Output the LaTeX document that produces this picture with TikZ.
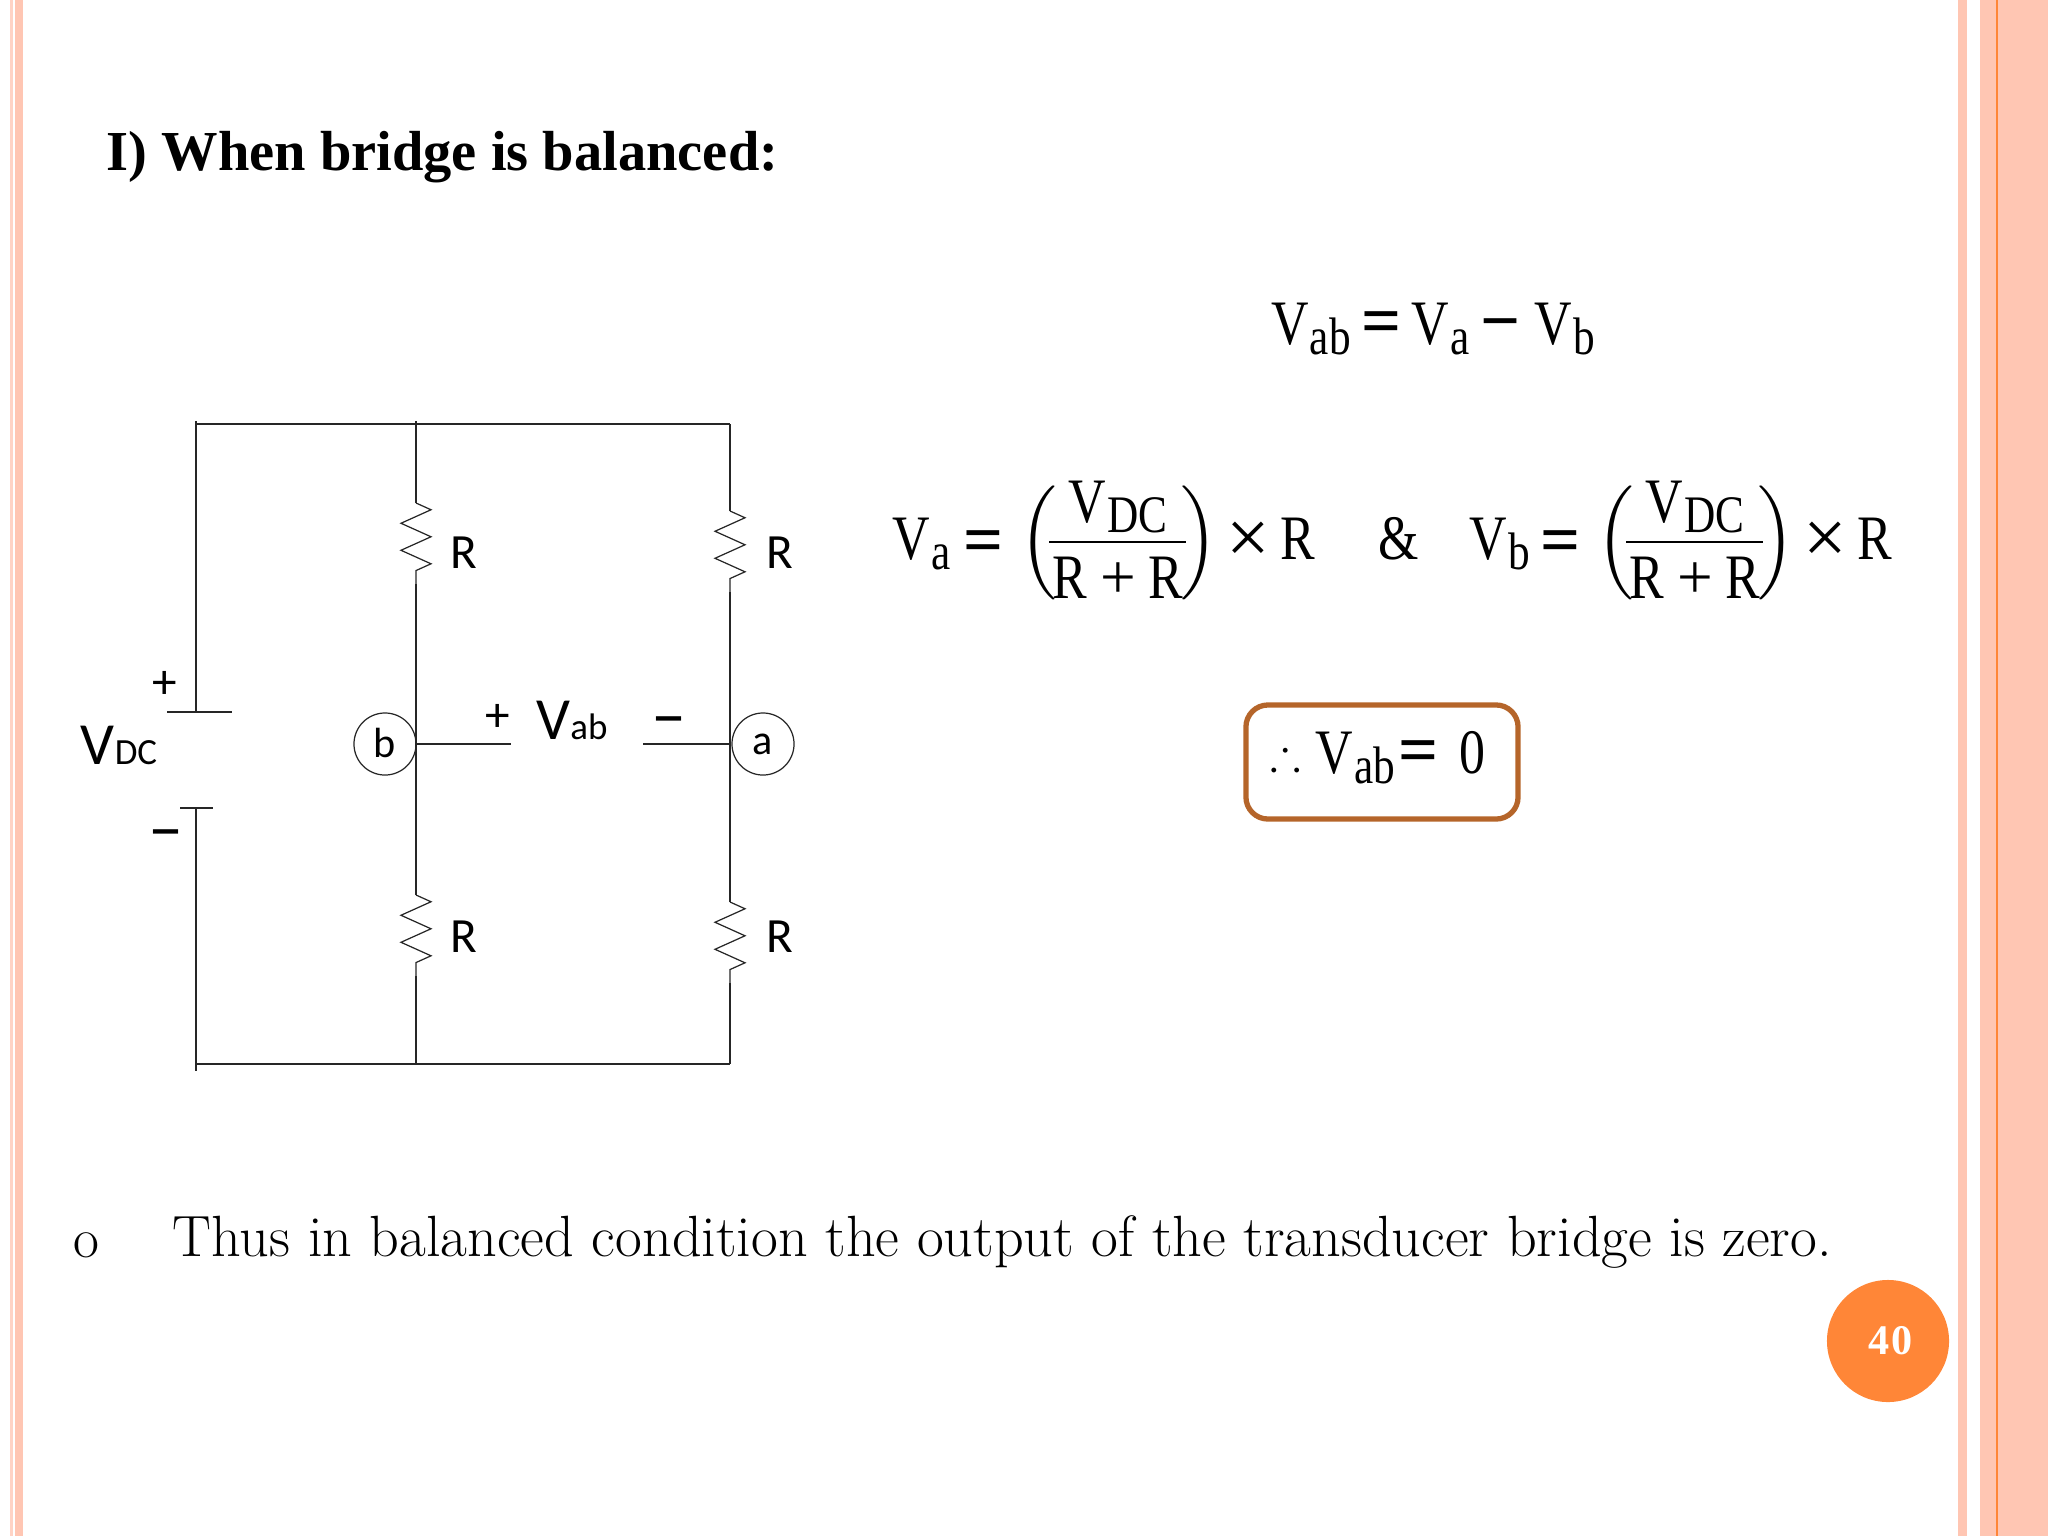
\documentclass[tikz,border=0pt]{standalone}
\usepackage{amsmath,amssymb}
\usepackage{fontspec}
\usetikzlibrary{decorations.pathmorphing}
\setmainfont{Liberation Serif}
\newfontfamily\eqfont[FakeStretch=0.82]{Liberation Serif}
\newfontfamily\opfont{Liberation Serif}
\newfontfamily\bodyfont{Latin Modern Roman}
\newfontfamily\labelfont{Carlito}
\definecolor{stripe}{HTML}{FFC6B3}
\definecolor{stripelight}{HTML}{FFD3C5}
\definecolor{badge}{HTML}{FF8637}
\definecolor{boxedge}{HTML}{B5652A}
\newcommand{\volt}[2]{#1\kern0.02em\raisebox{-3pt}{\fontsize{15}{17}\selectfont #2}}
\newcommand{\bigv}[2]{{\fontsize{17}{20}\selectfont #1}{\fontsize{10.5}{12}\selectfont #2}}
\newcommand{\opsign}[1]{{\opfont\bfseries\fontsize{20}{22}\selectfont #1}}
\tikzset{
  wire/.style={black!85,line width=0.35pt},
  rzig/.style={wire,decorate,decoration={zigzag,segment length=0.27cm,amplitude=0.15cm}},
  lab/.style={inner sep=0pt,font=\labelfont\fontsize{14}{16}\selectfont},
  minuslab/.style={inner sep=0pt,font=\labelfont\fontsize{20}{22}\selectfont},
  eqn/.style={inner sep=0pt,anchor=base,font=\eqfont\fontsize{18}{22}\selectfont},
  pole/.style={draw,circle,black!85,text=black,line width=0.35pt,minimum size=0.62cm,inner sep=0pt,font=\labelfont\fontsize{12}{14}\selectfont}
}
\begin{document}
\begin{tikzpicture}[x=0.01cm,y=0.01cm]
\useasboundingbox (0,0) rectangle (2048,-1536);
\fill [stripelight] (10,0) rectangle (13,-1536);
\fill [stripe] (15,0) rectangle (23,-1536);
\fill [stripe] (1958,0) rectangle (1967,-1536);
\fill [stripe] (1980,0) rectangle (2048,-1536);
\fill [badge] (1996,0) rectangle (1998,-1536);
\node (title) [anchor=west,inner sep=0pt,font=\bfseries\fontsize{16.06}{20}\selectfont] at (106,-157) {I) When bridge is balanced:};
\node (bullet) [inner sep=0pt,font=\bodyfont\fontsize{16}{18}\selectfont] at (86,-1245) {o};
\node (body) [anchor=west,inner sep=0pt,font=\bodyfont\fontsize{16.55}{20}\selectfont] at (172,-1242) {Thus in balanced condition the output of the transducer bridge is zero.};
\node (pagenum) [circle,fill=badge,text=white,minimum size=1.22cm,inner sep=0pt,font=\bfseries\fontsize{12}{14}\selectfont] at (1888,-1341) {\raisebox{-1.8pt}{\kern1.5pt 4\kern0.6pt 0}};
% rails
\coordinate (ltop) at (196,-421);
\coordinate (lcorner) at (196,-424);
\coordinate (mtop) at (416,-421);
\coordinate (rcorner) at (730,-424);
\coordinate (lplus) at (196,-712);
\coordinate (lminus) at (196,-808);
\coordinate (lbot) at (196,-1071);
\coordinate (lbcorner) at (196,-1064);
\coordinate (mbot) at (416,-1064);
\coordinate (rbot) at (730,-1064);
\coordinate (pa) at (167,-712);
\coordinate (pb) at (232,-712);
\coordinate (ma) at (180,-808);
\coordinate (mb) at (213,-808);
\coordinate (r1a) at (416,-503);
\coordinate (r1b) at (416,-584);
\coordinate (r2a) at (730,-511);
\coordinate (r2b) at (730,-592);
\coordinate (r3a) at (416,-895);
\coordinate (r3b) at (416,-976);
\coordinate (r4a) at (730,-902);
\coordinate (r4b) at (730,-983);
\coordinate (wb) at (511,-744);
\coordinate (wa) at (643,-744);
\node (nodeb) [pole] at (385,-744) {\raisebox{0.6pt}{b}};
\node (nodea) [pole] at (763,-744) {a};
\draw [wire] (lcorner) -- (rcorner);
\draw [wire] (ltop) -- (lplus);
\draw [wire] (pa) -- (pb);
\draw [wire] (ma) -- (mb);
\draw [wire] (lminus) -- (lbot);
\draw [wire] (lbcorner) -- (rbot);
\draw [wire] (mtop) -- (r1a);
\draw [rzig] (r1a) -- (r1b);
\draw [wire] (r1b) -- (r3a);
\draw [rzig] (r3a) -- (r3b);
\draw [wire] (r3b) -- (mbot);
\draw [wire] (rcorner) -- (r2a);
\draw [rzig] (r2a) -- (r2b);
\draw [wire] (r2b) -- (r4a);
\draw [rzig] (r4a) -- (r4b);
\draw [wire] (r4b) -- (rbot);
\draw [wire] (nodeb.east) -- (wb);
\draw [wire] (wa) -- (nodea.west);
\node (r1) [lab] at (464,-553) {R};
\node (r2) [lab] at (780,-553) {R};
\node (r3) [lab] at (464,-937) {R};
\node (r4) [lab] at (780,-937) {R};
\node (plus) [lab] at (165,-685) {+};
\node (minus) [minuslab] at (166,-841) {–};
\node (vdc) [lab] at (119,-745) {\bigv{V}{DC}};
\node (vplus) [lab] at (498,-718) {+};
\node (vab) [lab] at (572,-720) {\bigv{V}{ab}};
\node (vminus) [minuslab] at (669,-728) {–};
% equations
\node (eqab) [eqn] at (1433,-344) {\volt{V}{ab}\kern3pt\opsign{=}\kern3pt\volt{V}{a}\kern3pt\opsign{−}\kern4pt\volt{V}{b}};
\foreach \sub/\offs in {a/0,b/577} {
  \begin{scope}[xshift=\offs*0.01cm]
    \node (v\sub) [eqn,anchor=base west] at (892,-559) {\volt{V}{\sub}};
    \node (equal\sub) [eqn] at (984,-563) {\opsign{=}};
    \node (pl\sub) [inner sep=0pt] at (1038,-543) {\fontsize{18}{22}\selectfont$\Big($};
    \node (pr\sub) [inner sep=0pt] at (1199,-543) {\fontsize{18}{22}\selectfont$\Big)$};
    \node (num\sub) [eqn] at (1118,-522) {\volt{V}{DC}};
    \node (den\sub) [eqn] at (1118,-598) {R {\opfont +} R};
    \coordinate (barl\sub) at (1049,-542);
    \coordinate (barr\sub) at (1186,-542);
    \draw [black,line width=0.8pt] (barl\sub) -- (barr\sub);
    \node (times\sub) [eqn] at (1248,-563) {\opfont\fontsize{22}{24}\selectfont ×};
    \node (rr\sub) [eqn] at (1298,-559) {R};
  \end{scope}
}
\node (amp) [eqn] at (1399,-559) {\&};
\node (result) [draw=boxedge,line width=1.5pt,rounded corners=0.22cm,minimum width=2.72cm,minimum height=1.14cm,inner sep=0pt] at (1382,-762) {};
\node (dots) [inner sep=0pt,font=\fontsize{13}{15}\selectfont] at (1286,-754) {$\boldsymbol{\therefore}$};
\node (resulttext) [eqn,anchor=base west] at (1315,-773) {\volt{V}{ab}\kern1pt\opsign{=}\kern6pt 0};
\end{tikzpicture}
\end{document}
